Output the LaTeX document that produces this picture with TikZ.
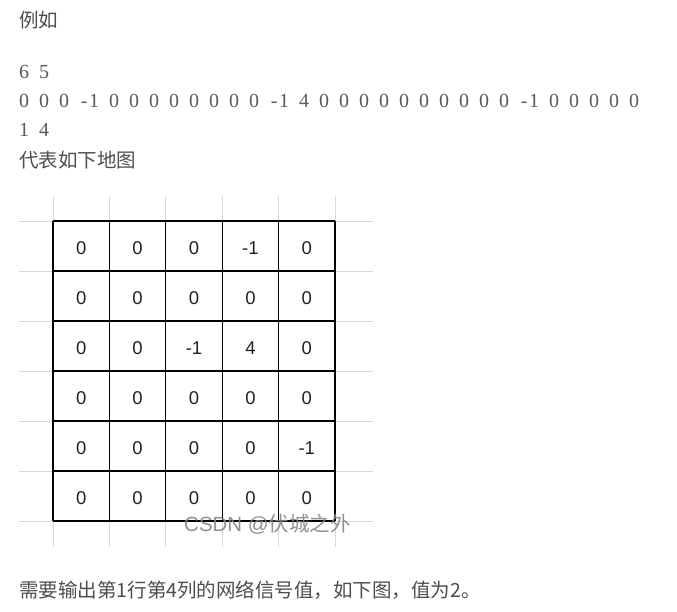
\documentclass[tikz,border=0pt]{standalone}
\usepackage{fontspec}
\setmainfont{Liberation Sans}
\newfontfamily\cjk{Noto Sans CJK SC}
\newfontfamily\numfont[WordSpace={2,0,0}]{Liberation Serif}
\definecolor{txt}{HTML}{4D4D4D}
\definecolor{numc}{HTML}{5A5A5A}
\definecolor{gridc}{HTML}{D9D9D9}
\definecolor{cellc}{HTML}{222222}
\newcommand\mneg{\makebox[0.5em]{-}}
\tikzset{
  para/.style={anchor=west, inner sep=0pt, text=txt, font=\cjk\fontsize{19.5}{22}\selectfont},
  nums/.style={anchor=west, inner sep=0pt, text=numc, font=\numfont\fontsize{20}{22}\selectfont},
  faint/.style={draw=gridc, line width=1pt},
  boxline/.style={draw=black, line width=1.2pt},
  cell/.style={inner sep=0pt, text=cellc, font=\fontsize{18.5}{20}\selectfont},
  wmark/.style={inner sep=0pt, text=black!48, opacity=0.9, font=\fontsize{20.5}{22}\selectfont}
}
\begin{document}
\begin{tikzpicture}[x=1pt,y=-1pt]
\useasboundingbox (0,0) rectangle (677,611);
\fill[white] (0,0) rectangle (677,611);
% text above
\node[para] (t1) at (19,20) {例如};
\node[nums] (n1) at (19,72) {6 5};
\node[nums] (n2) at (19,101) {0 0 0 \mneg1 0 0 0 0 0 0 0 0 \mneg1 4 0 0 0 0 0 0 0 0 0 0 \mneg1 0 0 0 0 0};
\node[nums] (n3) at (19,130) {1 4};
\node[para] (t2) at (19,160) {代表如下地图};
% faint grid
\foreach \i in {0,...,6} \draw[faint] (19,221+50*\i) -- (373,221+50*\i);
\foreach \j in {0,...,5} \draw[faint] (53+56.4*\j,196) -- (53+56.4*\j,547);
% black table
\foreach \i in {0,...,6} \draw[boxline] (53,221+50*\i) -- (335,221+50*\i);
\foreach \j in {0,...,5} \draw[boxline] (53+56.4*\j,221) -- (53+56.4*\j,521);
% cells
\foreach \row [count=\r] in {{0,0,0,-1,0},{0,0,0,0,0},{0,0,-1,4,0},{0,0,0,0,0},{0,0,0,0,-1},{0,0,0,0,0}}{
  \foreach \v [count=\c] in \row {
    \node[cell] (c\r-\c) at (53+56.4*\c-28.2, 221+50*\r-23) {\v};
  }
}
% watermark
\node[wmark] (wm) at (267.5,524) {CSDN @{\cjk 伏城之外}};
% bottom text
\node[para] (t3) at (19,590) {需要输出第1行第4列的网络信号值，如下图，值为2。};
\end{tikzpicture}
\end{document}
